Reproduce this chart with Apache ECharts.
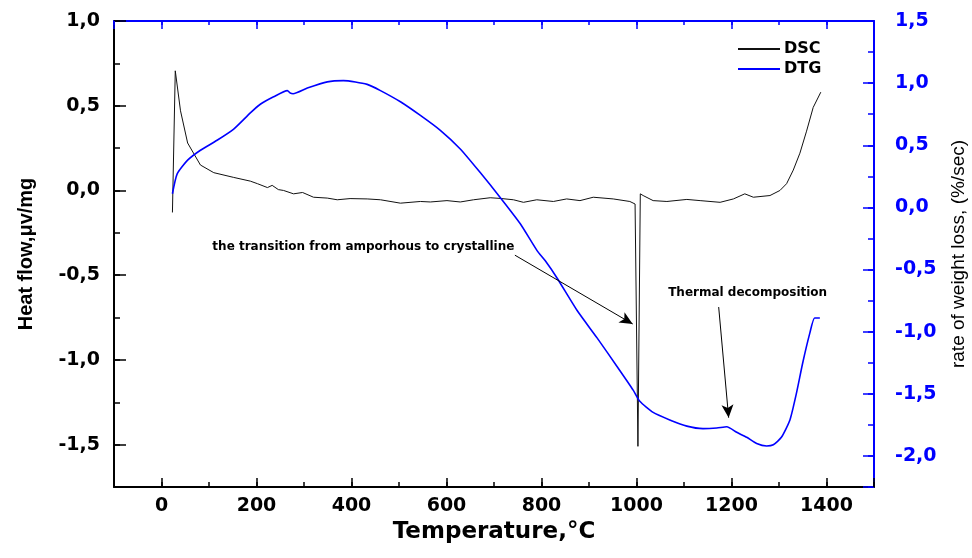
<!DOCTYPE html>
<html>
<head>
<meta charset="utf-8">
<title>DSC / DTG</title>
<script src="https://cdn.jsdelivr.net/npm/echarts@6/dist/echarts.min.js"></script>
<style>
html, body { margin: 0; padding: 0; background: #fff; }
#main { width: 972px; height: 558px; }
</style>
</head>
<body>
<div id="main"></div>
<script>
// DSC curve (left axis)
var dscTemp = [23, 29, 40, 55, 82, 110, 152, 187, 202, 223, 233, 246, 257, 278, 297, 320, 349, 370, 397, 433,
    461, 503, 545, 566, 601, 629, 657, 692, 713, 741, 762, 790, 825, 853, 881, 909, 951, 986, 997, 1003,
    1008, 1014, 1035, 1064, 1106, 1134, 1176, 1204, 1228, 1246, 1281, 1302, 1316, 1330, 1344, 1358, 1372, 1388];
var dscValue = [-0.13, 0.706, 0.47, 0.28, 0.15, 0.105, 0.077, 0.055, 0.04, 0.017, 0.03, 0.005, 0.0, -0.02, -0.012, -0.04, -0.045, -0.055, -0.048, -0.05,
    -0.055, -0.075, -0.065, -0.068, -0.06, -0.068, -0.055, -0.043, -0.047, -0.055, -0.07, -0.055, -0.065, -0.05, -0.06, -0.04, -0.05, -0.065, -0.08, -1.51,
    -0.02, -0.03, -0.06, -0.065, -0.053, -0.06, -0.07, -0.05, -0.02, -0.04, -0.03, 0.0, 0.04, 0.12, 0.22, 0.35, 0.49, 0.58];

// DTG curve (right axis)
var dtgTemp = [23, 33, 55, 82, 117, 152, 187, 208, 236, 265, 271, 277, 307, 349, 383, 433, 461, 503, 545, 587,
    629, 671, 713, 755, 791, 808, 833, 875, 917, 959, 993, 1007, 1035, 1070, 1106, 1140, 1169, 1190, 1211, 1232,
    1253, 1274, 1288, 1305, 1323, 1337, 1350, 1365, 1375, 1386];
var dtgValue = [0.11, 0.27, 0.38, 0.46, 0.54, 0.63, 0.76, 0.83, 0.89, 0.94, 0.92, 0.915, 0.96, 1.01, 1.02, 0.99, 0.94, 0.85, 0.74, 0.62,
    0.47, 0.28, 0.08, -0.13, -0.35, -0.43, -0.57, -0.83, -1.05, -1.28, -1.47, -1.56, -1.65, -1.71, -1.76, -1.78, -1.775, -1.765, -1.81, -1.85,
    -1.90, -1.92, -1.91, -1.85, -1.71, -1.49, -1.25, -1.01, -0.89, -0.89];

// tick labels
var xTicks = [0, 200, 400, 600, 800, 1000, 1200, 1400];
var leftTicks = [-1.5, -1.0, -0.5, 0.0, 0.5, 1.0];
var rightTicks = [-2.0, -1.5, -1.0, -0.5, 0.0, 0.5, 1.0, 1.5];

// annotations: [temperature, heat flow]
var noteText = ['the transition from amporhous to crystalline', 'Thermal decomposition'];
var noteAt = [[425, -0.335], [1234, -0.606]];
var arrowFrom = [[744, -0.382], [1173, -0.688]];
var arrowTo = [[992, -0.788], [1194, -1.341]];

var BLUE = '#0000ff';
var BOLD = 'DejaVu Sans';

function pairs(t, v) {
    var d = [];
    for (var i = 0; i < t.length; i++) d.push([t[i], v[i]]);
    return d;
}
function comma(v) {
    return v.toFixed(1).replace('.', ',');
}
// plain value axis, no crossing at zero, no grid lines
function axis(extra) {
    var a = {
        type: 'value',
        splitLine: { show: false },
        axisLine: { onZero: false, show: false },
        axisLabel: { show: false }
    };
    for (var k in extra) a[k] = extra[k];
    return a;
}
function ticks(len, color) {
    return { show: true, inside: true, length: len, lineStyle: { color: color, width: 1.5 } };
}

var myChart = echarts.init(document.getElementById('main'));

var option = {
    animation: false,
    backgroundColor: '#fff',
    grid: { left: 114, right: 98, top: 21, bottom: 71, outerBoundsMode: 'none' },
    legend: {
        orient: 'vertical',
        left: 733,
        top: 36,
        itemWidth: 42,
        itemHeight: 2,
        itemGap: 4,
        textStyle: { fontFamily: BOLD, fontWeight: 'bold', fontSize: 16, color: '#000', padding: [0, 0, 0, -1] },
        data: [{ name: 'DSC', icon: 'rect' }, { name: 'DTG', icon: 'rect' }]
    },
    xAxis: [axis({
        // bottom axis, major ticks every 200
        position: 'bottom', min: -100, max: 1500, splitNumber: 8,
        axisLine: { show: true, onZero: false, lineStyle: { color: '#000', width: 2 } },
        axisTick: ticks(9, '#000'),
        axisLabel: {
            show: true, customValues: xTicks, margin: 10, color: '#000',
            fontFamily: BOLD, fontWeight: 'bold', fontSize: 19,
            formatter: function(v) { return xTicks.indexOf(v) < 0 ? '' : String(v); }
        },
        name: 'Temperature,°C', nameLocation: 'middle', nameGap: 31,
        nameTextStyle: { fontFamily: BOLD, fontWeight: 'bold', fontSize: 23, color: '#000' }
    }), axis({
        // top axis (blue)
        position: 'top', min: -100, max: 1500, splitNumber: 8,
        axisLine: { show: true, onZero: false, lineStyle: { color: BLUE, width: 2 } },
        axisTick: ticks(8, BLUE)
    }), axis({
        // minor ticks bottom
        position: 'bottom', min: -100, max: 1500, interval: 100,
        axisTick: ticks(5, '#000')
    }), axis({
        // minor ticks top
        position: 'top', min: -100, max: 1500, interval: 100,
        axisTick: ticks(4, BLUE)
    })],
    yAxis: [axis({
        position: 'left', min: -1.75, max: 1.0, splitNumber: 5,
        axisLine: { show: true, onZero: false, lineStyle: { color: '#000', width: 2 } },
        axisTick: ticks(12, '#000'),
        axisLabel: {
            show: true, customValues: leftTicks, margin: 14, color: '#000',
            fontFamily: BOLD, fontWeight: 'bold', fontSize: 19,
            formatter: function(v) { return leftTicks.indexOf(v) < 0 ? '' : comma(v); }
        },
        name: 'Heat flow,\u03bcv/mg', nameLocation: 'middle', nameGap: 78,
        nameTextStyle: { fontFamily: 'Liberation Sans', fontWeight: 'bold', fontSize: 20, color: '#000' }
    }), axis({
        position: 'right', min: -2.25, max: 1.5, splitNumber: 7,
        axisLine: { show: true, onZero: false, lineStyle: { color: BLUE, width: 2 } },
        axisTick: ticks(11, BLUE),
        axisLabel: {
            show: true, customValues: rightTicks, margin: 21, color: BLUE,
            fontFamily: BOLD, fontWeight: 'bold', fontSize: 19,
            formatter: function(v) { return rightTicks.indexOf(v) < 0 ? '' : comma(v); }
        },
        name: 'rate of weight loss, (%/sec)', nameLocation: 'middle', nameGap: 75, nameRotate: 90,
        nameTextStyle: { fontFamily: 'Liberation Sans', fontSize: 19, color: '#000' }
    }), axis({
        // minor ticks left
        position: 'left', offset: 0, min: -1.75, max: 1.0, interval: 0.25,
        axisTick: ticks(6, '#000')
    }), axis({
        // minor ticks right
        position: 'right', offset: 0, min: -2.25, max: 1.5, interval: 0.25,
        axisTick: ticks(6, BLUE)
    })],
    series: [{
        name: 'DSC',
        type: 'line',
        xAxisIndex: 0,
        yAxisIndex: 0,
        symbol: 'none',
        lineStyle: { color: '#111', width: 1 },
        itemStyle: { color: '#111' },
        data: pairs(dscTemp, dscValue),
        markLine: {
            silent: true,
            symbol: ['none', 'arrow'],
            symbolSize: [9, 13],
            label: { show: false },
            lineStyle: { color: '#000', width: 1, type: 'solid' },
            data: arrowFrom.map(function(p, i) {
                return [{ coord: p }, { coord: arrowTo[i] }];
            })
        },
        markPoint: {
            silent: true,
            symbol: 'rect',
            symbolSize: 1,
            itemStyle: { color: 'rgba(0,0,0,0)' },
            label: {
                show: true, position: 'inside', color: '#000',
                fontFamily: BOLD, fontWeight: 'bold', fontSize: 12,
                formatter: function(p) { return p.name; }
            },
            data: noteAt.map(function(p, i) {
                return { name: noteText[i], coord: p };
            })
        }
    }, {
        name: 'DTG',
        type: 'line',
        xAxisIndex: 0,
        yAxisIndex: 1,
        symbol: 'none',
        smooth: 0.2,
        lineStyle: { color: BLUE, width: 1.6 },
        itemStyle: { color: BLUE },
        data: pairs(dtgTemp, dtgValue)
    }]
};

myChart.setOption(option);
</script>
</body>
</html>
